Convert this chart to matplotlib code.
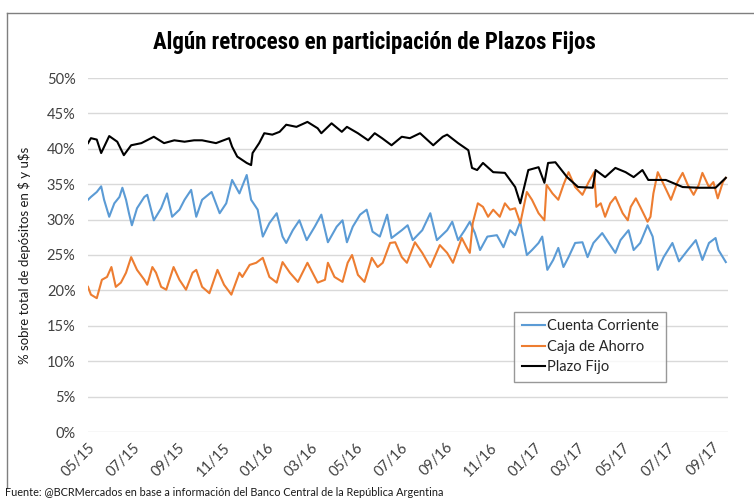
import pandas as pd
import matplotlib
matplotlib.use("Agg")
import matplotlib.pyplot as plt
import matplotlib.dates as mdates
from matplotlib.lines import Line2D
from matplotlib.ticker import FuncFormatter

# Datos (participacion % sobre total de depositos)
fechas_pf = ["2015-05-01", "2015-05-05", "2015-05-13", "2015-05-19", "2015-05-30", "2015-06-10",
             "2015-06-19", "2015-06-29", "2015-07-13", "2015-07-30", "2015-08-13", "2015-08-27",
             "2015-09-10", "2015-09-23", "2015-10-04", "2015-10-23", "2015-11-10", "2015-11-14",
             "2015-11-21", "2015-12-04", "2015-12-10", "2015-12-12", "2015-12-21", "2015-12-28",
             "2016-01-08", "2016-01-18", "2016-01-27", "2016-02-10", "2016-02-25", "2016-03-10",
             "2016-03-15", "2016-03-29", "2016-04-12", "2016-04-19", "2016-05-04", "2016-05-18",
             "2016-05-27", "2016-06-06", "2016-06-19", "2016-07-03", "2016-07-14", "2016-07-28",
             "2016-08-15", "2016-08-28", "2016-09-03", "2016-09-18", "2016-10-02", "2016-10-07",
             "2016-10-14", "2016-10-22", "2016-11-05", "2016-11-21", "2016-11-28", "2016-12-05",
             "2016-12-12", "2016-12-23", "2017-01-06", "2017-01-14", "2017-01-19", "2017-01-29",
             "2017-02-14", "2017-03-01", "2017-03-21", "2017-03-25", "2017-04-07", "2017-04-21",
             "2017-05-05", "2017-05-16", "2017-05-28", "2017-06-05", "2017-06-29", "2017-07-22",
             "2017-08-13", "2017-09-05", "2017-09-19"]
plazo_fijo = [40.8, 41.5, 41.3, 39.4, 41.8, 41.0, 39.1, 40.5, 40.8, 41.7, 40.8, 41.2,
              41.0, 41.2, 41.2, 40.8, 41.5, 40.3, 38.9, 38.0, 37.7, 39.4, 40.8, 42.2,
              42.0, 42.4, 43.4, 43.1, 43.8, 42.9, 42.2, 43.6, 42.4, 43.1, 42.2, 41.2,
              42.2, 41.5, 40.5, 41.7, 41.5, 42.2, 40.5, 41.7, 42.0, 40.8, 39.8, 37.3,
              37.0, 38.0, 36.7, 36.6, 35.6, 34.6, 32.3, 37.0, 37.4, 35.2, 38.0, 38.1,
              36.0, 34.6, 34.5, 37.0, 36.0, 37.3, 36.7, 36.0, 37.0, 35.6, 35.6, 34.6,
              34.5, 34.5, 35.9]

fechas_cc = ["2015-05-01", "2015-05-05", "2015-05-13", "2015-05-19", "2015-05-23", "2015-05-30",
             "2015-06-06", "2015-06-13", "2015-06-17", "2015-06-22", "2015-06-26", "2015-06-30",
             "2015-07-07", "2015-07-17", "2015-07-21", "2015-07-30", "2015-08-09", "2015-08-17",
             "2015-08-24", "2015-09-03", "2015-09-10", "2015-09-19", "2015-09-26", "2015-10-04",
             "2015-10-17", "2015-10-28", "2015-11-06", "2015-11-14", "2015-11-24", "2015-12-04",
             "2015-12-10", "2015-12-19", "2015-12-26", "2016-01-04", "2016-01-14", "2016-01-22",
             "2016-01-27", "2016-02-05", "2016-02-14", "2016-02-24", "2016-03-06", "2016-03-15",
             "2016-03-24", "2016-04-05", "2016-04-13", "2016-04-19", "2016-04-27", "2016-05-07",
             "2016-05-16", "2016-05-24", "2016-06-03", "2016-06-13", "2016-06-19", "2016-07-03",
             "2016-07-11", "2016-07-18", "2016-07-31", "2016-08-11", "2016-08-20", "2016-09-03",
             "2016-09-10", "2016-09-18", "2016-09-27", "2016-10-04", "2016-10-11", "2016-10-18",
             "2016-10-28", "2016-11-10", "2016-11-19", "2016-11-28", "2016-12-05", "2016-12-12",
             "2016-12-21", "2016-12-28", "2017-01-06", "2017-01-11", "2017-01-18", "2017-01-26",
             "2017-02-02", "2017-02-09", "2017-02-16", "2017-02-25", "2017-03-07", "2017-03-14",
             "2017-03-22", "2017-04-03", "2017-04-12", "2017-04-21", "2017-04-28", "2017-05-09",
             "2017-05-16", "2017-05-25", "2017-06-04", "2017-06-11", "2017-06-18", "2017-06-26",
             "2017-07-08", "2017-07-17", "2017-07-29", "2017-08-09", "2017-08-18", "2017-08-27",
             "2017-09-05", "2017-09-09", "2017-09-19"]
cuenta_corriente = [32.8, 33.2, 33.9, 34.7, 32.8, 30.4, 32.3, 33.2, 34.5, 32.8, 30.9, 29.2,
                    31.6, 33.2, 33.5, 29.9, 31.6, 33.7, 30.4, 31.4, 32.8, 34.2, 30.4, 32.8,
                    33.9, 30.9, 32.3, 35.6, 33.7, 36.3, 32.8, 31.4, 27.6, 29.5, 30.9, 27.6,
                    26.7, 28.5, 29.9, 27.1, 29.0, 30.7, 26.8, 29.0, 29.9, 26.8, 29.0, 30.7,
                    31.4, 28.3, 27.6, 30.7, 27.4, 28.5, 29.2, 27.1, 28.5, 30.9, 27.1, 28.5,
                    29.7, 27.1, 28.5, 29.7, 28.1, 25.7, 27.6, 27.8, 26.1, 28.5, 27.8, 29.7,
                    25.0, 25.7, 26.7, 27.6, 22.9, 24.3, 26.0, 23.3, 24.7, 26.7, 26.8, 24.7,
                    26.7, 28.1, 26.7, 25.3, 27.1, 28.5, 25.7, 26.7, 29.2, 27.6, 22.9, 24.7,
                    26.7, 24.1, 25.7, 27.1, 24.3, 26.7, 27.4, 25.7, 24.0]

fechas_ca = ["2015-05-01", "2015-05-05", "2015-05-13", "2015-05-20", "2015-05-27", "2015-06-02",
             "2015-06-08", "2015-06-15", "2015-06-22", "2015-06-29", "2015-07-07", "2015-07-17",
             "2015-07-21", "2015-07-28", "2015-08-02", "2015-08-09", "2015-08-16", "2015-08-26",
             "2015-09-03", "2015-09-12", "2015-09-21", "2015-09-26", "2015-10-04", "2015-10-14",
             "2015-10-25", "2015-11-03", "2015-11-13", "2015-11-24", "2015-11-28", "2015-12-08",
             "2015-12-17", "2015-12-26", "2016-01-04", "2016-01-14", "2016-01-22", "2016-02-01",
             "2016-02-12", "2016-02-25", "2016-03-03", "2016-03-10", "2016-03-20", "2016-03-24",
             "2016-04-02", "2016-04-13", "2016-04-20", "2016-04-26", "2016-05-04", "2016-05-13",
             "2016-05-23", "2016-05-31", "2016-06-07", "2016-06-17", "2016-06-24", "2016-07-03",
             "2016-07-10", "2016-07-21", "2016-07-31", "2016-08-11", "2016-08-24", "2016-09-03",
             "2016-09-11", "2016-09-23", "2016-09-30", "2016-10-04", "2016-10-08", "2016-10-15",
             "2016-10-22", "2016-10-29", "2016-11-05", "2016-11-14", "2016-11-21", "2016-11-28",
             "2016-12-05", "2016-12-12", "2016-12-21", "2016-12-28", "2017-01-06", "2017-01-14",
             "2017-01-17", "2017-01-25", "2017-02-02", "2017-02-09", "2017-02-16", "2017-02-25",
             "2017-03-07", "2017-03-15", "2017-03-23", "2017-03-26", "2017-04-01", "2017-04-07",
             "2017-04-14", "2017-04-21", "2017-05-01", "2017-05-08", "2017-05-12", "2017-05-19",
             "2017-05-25", "2017-06-04", "2017-06-08", "2017-06-12", "2017-06-18", "2017-06-25",
             "2017-07-06", "2017-07-15", "2017-07-22", "2017-07-29", "2017-08-06", "2017-08-13",
             "2017-08-18", "2017-08-27", "2017-09-02", "2017-09-08", "2017-09-15", "2017-09-19"]
caja_ahorro = [20.5, 19.4, 18.9, 21.5, 21.9, 23.3, 20.5, 21.1, 22.5, 24.7, 22.9, 21.5,
               20.8, 23.3, 22.5, 20.5, 20.1, 23.3, 21.5, 20.1, 22.5, 22.9, 20.5, 19.6,
               22.9, 20.8, 19.4, 22.5, 21.9, 23.6, 23.9, 24.6, 21.9, 21.1, 24.0, 22.5,
               21.2, 23.9, 22.5, 21.1, 21.5, 23.9, 21.9, 21.2, 23.9, 25.0, 22.2, 21.2,
               24.6, 23.3, 23.9, 26.7, 26.8, 24.7, 23.9, 26.8, 25.3, 23.3, 26.4, 25.3,
               23.9, 27.4, 26.0, 25.3, 29.5, 32.3, 31.8, 30.4, 31.4, 30.4, 32.3, 31.4,
               31.6, 29.5, 33.9, 32.8, 30.9, 29.9, 34.9, 33.7, 32.8, 34.9, 36.7, 34.6,
               33.5, 35.2, 36.7, 31.8, 32.3, 30.4, 32.3, 33.2, 30.9, 29.9, 31.8, 33.0,
               31.8, 29.7, 30.4, 33.7, 36.7, 35.2, 32.8, 35.3, 36.6, 34.9, 33.5, 34.9,
               36.6, 34.6, 35.3, 33.0, 35.3, 35.9]

series = [
    ("Cuenta Corriente", fechas_cc, cuenta_corriente, "#5B9BD5"),
    ("Caja de Ahorro", fechas_ca, caja_ahorro, "#ED7D31"),
    ("Plazo Fijo", fechas_pf, plazo_fijo, "#000000"),
]

plt.rcParams['font.family'] = ['Lato', 'DejaVu Sans']

fig = plt.figure(figsize=(7.54, 5.01), dpi=100)
ax = fig.add_axes([88 / 754, 1 - 432 / 501, 640 / 754, 354 / 501])

for nombre, fechas, valores, color in series:
    ax.plot(pd.to_datetime(fechas), [v / 100 for v in valores], color=color,
            lw=1.5, label=nombre)

ax.set_ylim(0, 0.5)
ax.set_yticks([i / 100 for i in range(0, 51, 5)])
ax.yaxis.set_major_formatter(FuncFormatter(lambda v, p: f"{round(v * 100)}%"))
ax.set_xlim(pd.Timestamp("2015-05-01"), pd.Timestamp("2017-09-22"))
ax.xaxis.set_major_locator(mdates.MonthLocator(bymonth=[1, 3, 5, 7, 9, 11]))
ax.xaxis.set_major_formatter(mdates.DateFormatter("%m/%y"))

ax.grid(axis='y', color='#d9d9d9', lw=1)
ax.set_axisbelow(True)
for s in ax.spines.values():
    s.set_visible(False)
ax.tick_params(axis='both', length=0, labelsize=10.5, colors='#404040')
ax.tick_params(axis='y', pad=9)
plt.setp(ax.get_xticklabels(), rotation=45, ha='right', rotation_mode='anchor')
ax.tick_params(axis='x', pad=6)

ax.set_ylabel(r"% sobre total de depósitos en \$ y u\$s", fontsize=9.5,
              color='#1a1a1a', labelpad=11)

leg = ax.legend(loc='upper left', bbox_to_anchor=(0.655, 0.36), fontsize=10.5,
                frameon=True, fancybox=False, edgecolor='#7f7f7f', handlelength=1.6,
                handletextpad=0.1, borderpad=0.5, labelspacing=0.45)
leg.get_frame().set_linewidth(1)
for t in leg.get_texts():
    t.set_color('#262626')

fig.text(0.497, 1 - 42 / 501, "Algún retroceso en participación de Plazos Fijos",
         ha='center', va='center', fontsize=16.5, fontweight='bold',
         family=['Roboto Condensed', 'Roboto', 'DejaVu Sans'])
fig.text(5 / 754, 1 - 493 / 501,
         "Fuente: @BCRMercados en base a información del Banco Central de la República Argentina",
         ha='left', va='center', fontsize=7.8, color='#1a1a1a')

# marco exterior
fig.add_artist(Line2D([7 / 754, 7 / 754], [1 - 13 / 501, 1 - 488 / 501], color='#7f7f7f', lw=1))
fig.add_artist(Line2D([7 / 754, 1.0], [1 - 13 / 501, 1 - 13 / 501], color='#7f7f7f', lw=1))

fig.savefig("out.png", dpi=100)
